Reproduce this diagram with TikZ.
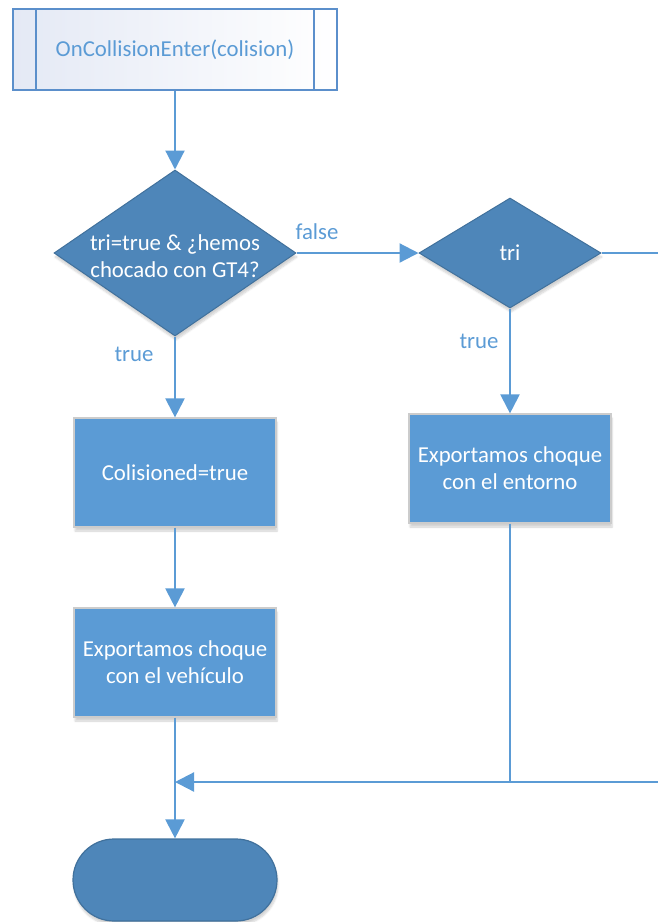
\documentclass[tikz,border=0pt]{standalone}
\usepackage{fontspec}
\setmainfont{Carlito}
\usetikzlibrary{shapes.geometric,arrows.meta,shadows.blur}

\definecolor{lineblue}{HTML}{5B9BD5}
\definecolor{boxblue}{HTML}{5B9BD5}
\definecolor{darkblue}{HTML}{4E86B9}
\definecolor{edgeblue}{HTML}{41719C}
\definecolor{startedge}{HTML}{5B8FCB}
\definecolor{startfill}{HTML}{E4E9F5}

\begin{document}
\begin{tikzpicture}[x=1pt,y=-1pt,
  font=\fontsize{22.8}{27}\selectfont,
  flow/.style={draw=lineblue, line width=2.2pt, -{Triangle[length=19pt,width=19pt]}},
  plain/.style={draw=lineblue, line width=2.2pt},
  softshadow/.style={blur shadow={shadow xshift=1pt, shadow yshift=-4pt, shadow opacity=18, shadow blur steps=6}},
  procbox/.style={rectangle, draw=gray!40, line width=1.2pt, fill=boxblue,
    minimum width=202pt, minimum height=109pt, text=white, align=center,
    inner sep=0pt, softshadow},
  decision/.style={diamond, draw=edgeblue, line width=1pt, fill=darkblue,
    inner sep=0pt, softshadow},
  dtext/.style={text=white, align=center, inner sep=0pt},
  lbl/.style={text=lineblue, inner sep=0pt},
  terminal/.style={rectangle, rounded corners=41pt, draw=edgeblue, line width=1.2pt,
    fill=darkblue, minimum width=204pt, minimum height=82pt, softshadow},
  startbox/.style={rectangle, draw=startedge, line width=2pt, left color=startfill,
    right color=white, minimum width=324pt, minimum height=81pt, text=lineblue}
]
\useasboundingbox (0,0) rectangle (658,922);

% start block with its two side bars
\node[startbox] (start) at (175,49.5) {OnCollisionEnter(colision)};
\draw[startedge, line width=2pt] ([xshift=24pt]start.north west) -- ([xshift=24pt]start.south west);
\draw[startedge, line width=2pt] ([xshift=-24pt]start.north east) -- ([xshift=-24pt]start.south east);

% decisions
\node[decision, minimum width=242pt, minimum height=166pt] (d1) at (175,253) {};
\node[dtext] (d1t) at (175,256) {tri=true \& ¿hemos\\chocado con GT4?};
\node[decision, minimum width=182pt, minimum height=110pt] (d2) at (510,253) {};
\node[dtext] (d2t) at (510,253) {tri};

% process blocks
\node[procbox] (b1) at (175,472.5) {Colisioned=true};
\node[procbox] (b2) at (175,662.5) {Exportamos choque\\con el vehículo};
\node[procbox] (b3) at (510,468.5) {Exportamos choque\\con el entorno};

% end terminal
\node[terminal] (end) at (175,880) {};

% connectors
\draw[flow] (start) -- (d1);
\draw[flow] (d1.east) -- (d2.west);
\draw[flow] (d1.south) -- (b1.north);
\draw[flow] (b1) -- (b2);
\draw[flow] (b2.south) -- (end.north);
\draw[flow] (d2.south) -- (b3.north);

\coordinate (offA) at (658,253);
\coordinate (offB) at (658,782);
\coordinate (merge) at (175,782);
\draw[plain] (d2.east) -- (offA);
\draw[plain] (b3.south) -- (b3.south |- offB);
\draw[flow] (offB) -- (merge);

% branch labels
\node[lbl] (lfalse) at (317,232) {false};
\node[lbl] (ltrue1) at (134,354) {true};
\node[lbl] (ltrue2) at (479,341) {true};
\end{tikzpicture}
\end{document}
